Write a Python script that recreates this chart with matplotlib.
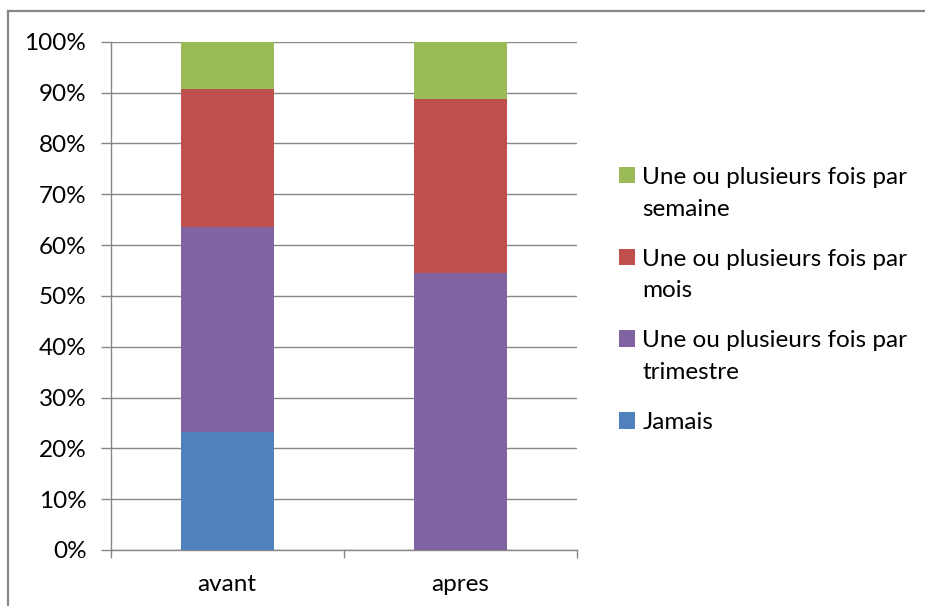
import matplotlib
matplotlib.use("Agg")
import matplotlib.pyplot as plt
from matplotlib.lines import Line2D
from matplotlib.ticker import FuncFormatter, FixedLocator

plt.rcParams['font.family'] = ['Lato', 'DejaVu Sans']

categories = ["avant", "apres"]
series_names = [
    "Jamais",
    "Une ou plusieurs fois par\ntrimestre",
    "Une ou plusieurs fois par\nmois",
    "Une ou plusieurs fois par\nsemaine",
]
jamais = [23.3, 0.0]
trimestre = [40.2, 54.5]
mois = [27.1, 34.3]
semaine = [9.4, 11.2]
colors = ["#4F81BD", "#8064A2", "#C0504D", "#9BBB59"]

W, H = 925, 606
fig = plt.figure(figsize=(W / 100, H / 100), dpi=100)
ax = fig.add_axes([110.7 / W, 1 - 550 / H, (576.7 - 110.7) / W, (550 - 41.7) / H])

x = list(range(len(categories)))
bottom = [0.0] * len(categories)
handles = []
for vals, name, col in zip([jamais, trimestre, mois, semaine], series_names, colors):
    b = ax.bar(x, vals, width=0.4, bottom=bottom, color=col, label=name, zorder=3)
    handles.append(b)
    bottom = [bt + v for bt, v in zip(bottom, vals)]

grid_col = "#868686"
ax.set_xlim(-0.5, 1.5)
ax.set_ylim(0, 100)
ax.set_yticks(range(0, 101, 10))
ax.yaxis.set_major_formatter(FuncFormatter(lambda v, p: f"{int(v)}%"))
ax.yaxis.grid(True, color=grid_col, linewidth=1.0, zorder=0)
ax.set_axisbelow(True)

ax.set_xticks(x)
ax.set_xticklabels(categories)
ax.xaxis.set_minor_locator(FixedLocator([-0.5, 0.5, 1.5]))
ax.tick_params(axis='x', which='major', length=0, pad=17, labelsize=17.5, colors="#000000")
ax.tick_params(axis='x', which='minor', length=6, width=1.0, color=grid_col, direction='out')
ax.tick_params(axis='y', which='major', length=7.5, width=1.0, color=grid_col, pad=10, labelsize=17.5)

for s in ["top", "right"]:
    ax.spines[s].set_visible(False)
for s in ["left", "bottom"]:
    ax.spines[s].set_color(grid_col)
    ax.spines[s].set_linewidth(1.0)

leg = ax.legend(handles[::-1], series_names[::-1], loc="upper left",
                bbox_to_anchor=(619 / W, 1 - 167 / H), bbox_transform=fig.transFigure,
                frameon=False, fontsize=17.5, handlelength=0.66, handleheight=0.66,
                handletextpad=0.3, labelspacing=1.2, borderpad=0, borderaxespad=0)
for t in leg.get_texts():
    t.set_linespacing(1.62)
for col in leg._legend_handle_box.get_children():
    for row in col.get_children():
        row.align = "top"

# outer frame (left and top edges visible)
fig.add_artist(Line2D([8 / W, 8 / W], [0, 1 - 11 / H], transform=fig.transFigure,
                      color="#878787", linewidth=1.6))
fig.add_artist(Line2D([8 / W, 1], [1 - 11 / H, 1 - 11 / H], transform=fig.transFigure,
                      color="#878787", linewidth=1.6))

fig.savefig("out.png", dpi=100)
